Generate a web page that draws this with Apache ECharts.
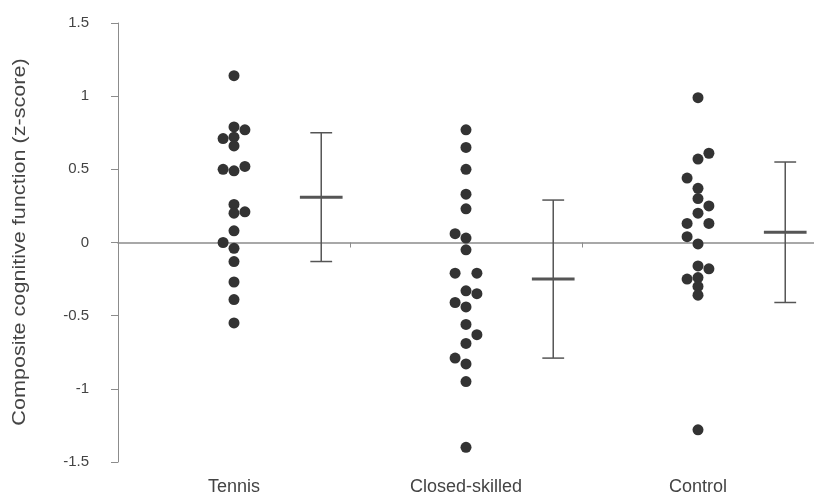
<!DOCTYPE html>
<html>
<head>
<meta charset="utf-8">
<script src="https://cdn.jsdelivr.net/npm/echarts@6/dist/echarts.min.js"></script>
<style>
  html, body { margin: 0; padding: 0; background: #fff; }
  #chart { width: 814px; height: 501px; }
</style>
</head>
<body>
<div id="chart"></div>
<script>
// Groups shown along the x axis
const categories = ['Tennis', 'Closed-skilled', 'Control'];

// Individual composite z-scores per group
const tennisScores = [1.14, 0.79, 0.77, 0.72, 0.71, 0.66, 0.52, 0.49, 0.50, 0.26, 0.21, 0.20, 0.08, 0.00, -0.04, -0.13, -0.27, -0.39, -0.55];
const closedScores = [0.77, 0.65, 0.50, 0.33, 0.23, 0.06, 0.03, -0.05, -0.21, -0.21, -0.33, -0.35, -0.41, -0.44, -0.56, -0.63, -0.69, -0.79, -0.83, -0.95, -1.40];
const controlScores = [0.99, 0.61, 0.57, 0.44, 0.37, 0.30, 0.25, 0.20, 0.13, 0.13, 0.04, -0.01, -0.16, -0.18, -0.24, -0.25, -0.30, -0.36, -1.28];

// Swarm lane of each dot (-1 left, 0 centre, 1 right) so overlapping dots sit side by side
const tennisLanes = [0, 0, 1, 0, -1, 0, 1, 0, -1, 0, 1, 0, 0, -1, 0, 0, 0, 0, 0];
const closedLanes = [0, 0, 0, 0, 0, -1, 0, 0, -1, 1, 0, 1, -1, 0, 0, 1, 0, -1, 0, 0, 0];
const controlLanes = [0, 1, 0, -1, 0, 0, 1, 0, -1, 1, -1, 0, 0, 1, 0, -1, 0, 0, 0];

// Group mean and standard deviation
const groupMeans = [0.31, -0.25, 0.07];
const groupSDs = [0.44, 0.54, 0.48];

// Y axis ticks
const yMin = -1.5, yMax = 1.5, yStep = 0.5;
const yTitle = 'Composite cognitive function (z-score)';

const scoreSets = [tennisScores, closedScores, controlScores];
const laneSets = [tennisLanes, closedLanes, controlLanes];

const LANE_STEP = 0.047;     // horizontal spacing of swarm lanes, in group units
const BAR_OFFSET = 0.376;    // error bar sits to the right of each swarm
const CAP_HALF = 0.047;
const MEAN_HALF = 0.092;

const dotData = [];
scoreSets.forEach((scores, g) => {
  scores.forEach((v, i) => {
    dotData.push([g + 0.5 + laneSets[g][i] * LANE_STEP, v]);
  });
});

const barData = groupMeans.map((m, g) => [g + 0.5 + BAR_OFFSET, m, groupSDs[g]]);

const axisGray = '#8c8c8c';
const textColor = '#444';
const fontFamily = '"Liberation Sans", Arial, sans-serif';

const chart = echarts.init(document.getElementById('chart'), null, { renderer: 'canvas' });

chart.setOption({
  animation: false,
  backgroundColor: '#fff',
  grid: { left: 118, right: -6, top: 23, bottom: 39, containLabel: false },
  graphic: [
    {
      // vertical axis title, set along the left edge
      type: 'text',
      x: 20,
      y: 242,
      rotation: Math.PI / 2,
      scaleX: 1.2,
      style: {
        text: yTitle,
        fill: textColor,
        fontSize: 18,
        fontFamily: fontFamily,
        align: 'center',
        verticalAlign: 'middle'
      }
    }
  ],
  xAxis: [
    {
      type: 'value',
      min: 0,
      max: categories.length,
      interval: 1,
      position: 'bottom',
      axisLine: { show: true, onZero: true, lineStyle: { color: axisGray, width: 1.5 } },
      axisTick: { show: true, length: 5, lineStyle: { color: axisGray, width: 1 } },
      axisLabel: { show: false },
      splitLine: { show: false }
    },
    {
      type: 'category',
      data: categories,
      position: 'bottom',
      boundaryGap: true,
      axisLine: { show: false, onZero: false },
      axisTick: { show: false },
      axisLabel: { margin: 16, color: textColor, fontSize: 18, fontFamily: fontFamily },
      splitLine: { show: false }
    }
  ],
  yAxis: {
    type: 'value',
    min: yMin,
    max: yMax,
    interval: yStep,
    axisLine: { show: true, onZero: false, lineStyle: { color: axisGray, width: 1 } },
    axisTick: { show: true, length: 7, lineStyle: { color: axisGray, width: 1 } },
    axisLabel: { margin: 29, color: textColor, fontSize: 15, fontFamily: fontFamily },
    splitLine: { show: false }
  },
  series: [
    {
      type: 'scatter',
      xAxisIndex: 0,
      data: dotData,
      symbol: 'circle',
      symbolSize: 11,
      itemStyle: { color: '#333333', opacity: 1 },
      z: 3
    },
    {
      type: 'custom',
      xAxisIndex: 0,
      data: barData,
      z: 2,
      renderItem: function (params, api) {
        const x = api.value(0), m = api.value(1), sd = api.value(2);
        const top = api.coord([x, m + sd]);
        const bot = api.coord([x, m - sd]);
        const capTL = api.coord([x - CAP_HALF, m + sd]);
        const capTR = api.coord([x + CAP_HALF, m + sd]);
        const capBL = api.coord([x - CAP_HALF, m - sd]);
        const capBR = api.coord([x + CAP_HALF, m - sd]);
        const mL = api.coord([x - MEAN_HALF, m]);
        const mR = api.coord([x + MEAN_HALF, m]);
        const thin = { stroke: '#555', lineWidth: 1.5 };
        return {
          type: 'group',
          children: [
            { type: 'line', shape: { x1: top[0], y1: top[1], x2: bot[0], y2: bot[1] }, style: thin },
            { type: 'line', shape: { x1: capTL[0], y1: capTL[1], x2: capTR[0], y2: capTR[1] }, style: thin },
            { type: 'line', shape: { x1: capBL[0], y1: capBL[1], x2: capBR[0], y2: capBR[1] }, style: thin },
            { type: 'line', shape: { x1: mL[0], y1: mL[1], x2: mR[0], y2: mR[1] }, style: { stroke: '#555', lineWidth: 3 } }
          ]
        };
      }
    }
  ]
});
</script>
</body>
</html>
